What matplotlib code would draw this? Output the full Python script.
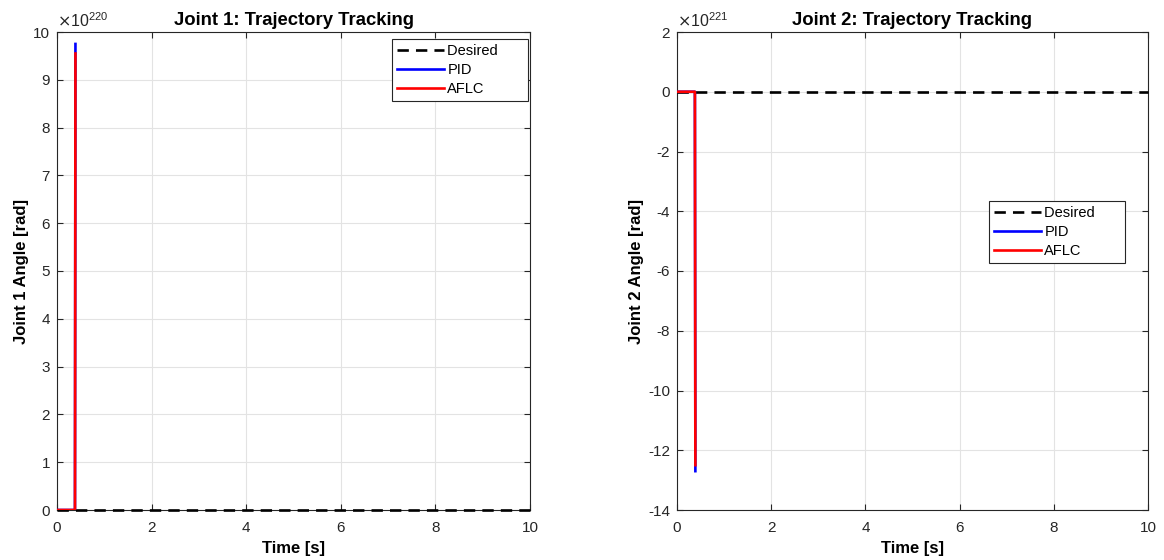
import numpy as np
import matplotlib
matplotlib.use("Agg")
import matplotlib.pyplot as plt
from matplotlib.ticker import FuncFormatter
from matplotlib.transforms import offset_copy

plt.rcParams['font.family'] = ['Liberation Sans', 'DejaVu Sans']
plt.rcParams['axes.unicode_minus'] = False

# time samples around the blow-up (after that the simulation is inf/nan)
t_sim = [0.0, 0.1, 0.2, 0.3, 0.38, 0.39]
t_des = [0.0, 10.0]

# joint 1
q1_des = [0.0, 0.0]
q1_pid = [0.0, 0.0, 0.0, 0.0, 0.0, 9.75e220]
q1_aflc = [0.0, 0.0, 0.0, 0.0, 0.0, 9.55e220]

# joint 2
q2_des = [0.0, 0.0]
q2_pid = [0.0, 0.0, 0.0, 0.0, 0.0, -1.27e222]
q2_aflc = [0.0, 0.0, 0.0, 0.0, 0.0, -1.25e222]

x_ticks = [0, 2, 4, 6, 8, 10]
y1_ticks = np.arange(0, 11) * 1e220
y2_ticks = np.arange(-14, 3, 2) * 1e221

fig = plt.figure(figsize=(11.64, 5.6), dpi=100)
ax1 = fig.add_axes([57/1164, 50/560, 473/1164, 478/560])
ax2 = fig.add_axes([677/1164, 50/560, 471/1164, 478/560])

def draw(ax, num, des, pid, aflc, yticks, ylim, order, leg_anchor):
    ax.plot(t_des, des, color='k', lw=1.9, dashes=(4.3, 2.7),
            label='Desired' + ' ' * 6, clip_on=False, zorder=3)
    ax.plot(t_sim, pid, color=(0, 0, 1), lw=1.9, label='PID', zorder=3)
    ax.plot(t_sim, aflc, color=(1, 0, 0), lw=1.9, label='AFLC', zorder=3)
    ax.set_xlim(0, 10)
    ax.set_ylim(*ylim)
    ax.set_xticks(x_ticks)
    ax.set_yticks(yticks)
    ax.yaxis.set_major_formatter(FuncFormatter(lambda v, p: '%g' % round(v / 10.0**order, 6)))
    tr = offset_copy(ax.transAxes, fig=fig, x=0, y=1.5, units='points')
    ax.text(0, 1, r'$\times\mathdefault{10^{%d}}$' % order, transform=tr,
            fontsize=11.5, color='#262626', ha='left', va='bottom')
    ax.grid(True, color='#e3e3e3', lw=0.8)
    ax.set_axisbelow(True)
    ax.tick_params(direction='in', length=4, width=0.8, top=True, right=True,
                   labelsize=11, colors='#262626', pad=5)
    ax.tick_params(axis='x', pad=8)
    for s in ax.spines.values():
        s.set_color('#262626')
        s.set_linewidth(0.8)
    ax.set_title('Joint %d: Trajectory Tracking' % num, fontsize=13.3,
                 fontweight='bold', pad=5)
    ax.set_xlabel('Time [s]', fontsize=12, fontweight='bold', labelpad=4)
    ax.set_ylabel('Joint %d Angle [rad]' % num, fontsize=12,
                  fontweight='bold', labelpad=3)
    leg = ax.legend(loc='upper right', bbox_to_anchor=leg_anchor, fontsize=10.5,
                    fancybox=False, framealpha=1, edgecolor='#262626',
                    handlelength=3.2, handletextpad=0.25, borderpad=0.35,
                    labelspacing=0.33, borderaxespad=0)
    leg.get_frame().set_linewidth(0.8)

draw(ax1, 1, q1_des, q1_pid, q1_aflc, y1_ticks, (0, 1e221), 220,
     ((528 - 57) / 473, (510 - 39) / 478))
draw(ax2, 2, q2_des, q2_pid, q2_aflc, y2_ticks, (-1.4e222, 2e221), 221,
     ((1125 - 677) / 471, (510 - 201) / 478))

fig.savefig('out.png', dpi=100)
